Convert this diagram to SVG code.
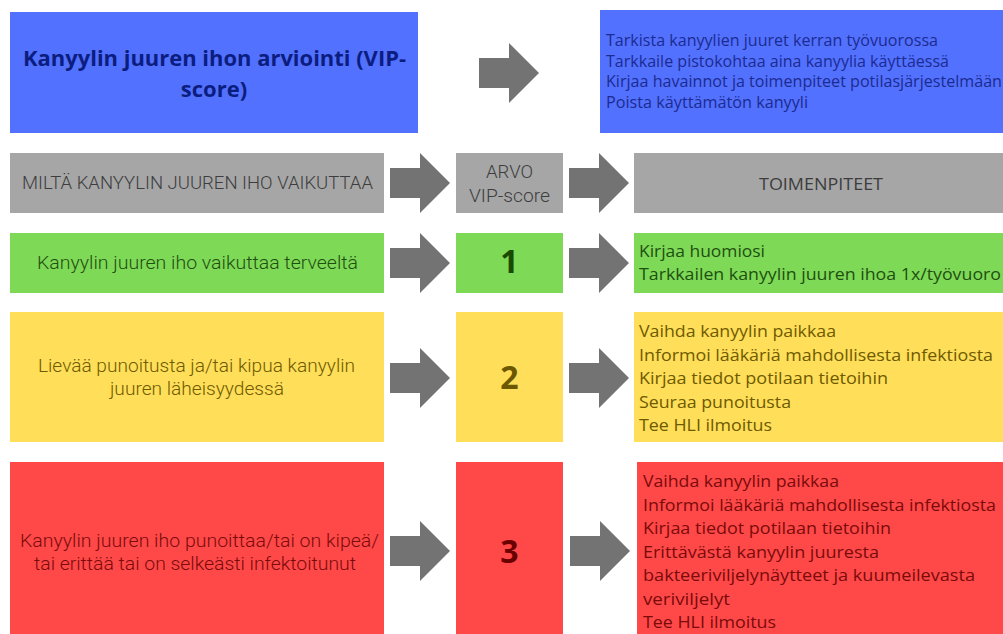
<svg xmlns="http://www.w3.org/2000/svg" xmlns:xlink="http://www.w3.org/1999/xlink" width="1003" height="634" viewBox="0 0 1003 634">
<defs>
<style>
.blue{fill:#5271FF}.gray{fill:#A6A6A6}.green{fill:#7ED957}.yellow{fill:#FFDE59}.red{fill:#FF4848}
.arrow{fill:#737373}
text{font-family:"Open Sans","Liberation Sans",sans-serif}
.l{font-family:Roboto,"Liberation Sans",sans-serif;font-weight:300;font-size:18px;text-anchor:middle}
.r{font-size:16px}
.num{font-family:"Open Sans","Liberation Sans",sans-serif;font-weight:bold;font-size:32px;text-anchor:middle}
.title{font-weight:bold;font-size:22px;fill:#0C1D80;text-anchor:middle}
.tb{fill:#1C2B90;font-size:16px}
.tg{fill:#3D3D3D}.tgr{fill:#1F4F10}.ty{fill:#6E5A00}.tr{fill:#7A0B0B}
</style>
<path id="arr" d="M0,-15 H30 V-30 L60,0 L30,30 V15 H0 Z"/>
</defs>
<g id="connectors" class="arrow">
<use xlink:href="#arr" x="479" y="73"/>
<use xlink:href="#arr" x="390" y="183"/>
<use xlink:href="#arr" x="569" y="183"/>
<use xlink:href="#arr" x="390" y="263"/>
<use xlink:href="#arr" x="569" y="263"/>
<use xlink:href="#arr" x="390" y="378"/>
<use xlink:href="#arr" x="569" y="378"/>
<use xlink:href="#arr" x="390" y="551"/>
<use xlink:href="#arr" x="570" y="551"/>
</g>
<g id="title">
<rect class="blue" x="10" y="12" width="408" height="121"/>
<text class="title" x="214.5" y="66" textLength="383" lengthAdjust="spacingAndGlyphs">Kanyylin juuren ihon arviointi (VIP-</text>
<text class="title" x="214" y="97">score)</text>
</g>
<g id="general">
<rect class="blue" x="600" y="10" width="403" height="123"/>
<text class="tb" x="606" y="46" textLength="332" lengthAdjust="spacingAndGlyphs">Tarkista kanyylien juuret kerran työvuorossa</text>
<text class="tb" x="606" y="66.5" textLength="343" lengthAdjust="spacingAndGlyphs">Tarkkaile pistokohtaa aina kanyylia käyttäessä</text>
<text class="tb" x="606" y="87" textLength="396" lengthAdjust="spacingAndGlyphs">Kirjaa havainnot ja toimenpiteet potilasjärjestelmään</text>
<text class="tb" x="606" y="107.5" textLength="202" lengthAdjust="spacingAndGlyphs">Poista käyttämätön kanyyli</text>
</g>
<g id="header-look">
<rect class="gray" x="10" y="153" width="374" height="60"/>
<text class="l tg" x="197.5" y="189" textLength="351" lengthAdjust="spacingAndGlyphs">MILTÄ KANYYLIN JUUREN IHO VAIKUTTAA</text>
</g>
<g id="header-value">
<rect class="gray" x="456" y="153" width="107" height="60"/>
<text class="l tg" x="509.5" y="178" textLength="47" lengthAdjust="spacingAndGlyphs">ARVO</text>
<text class="l tg" x="509.5" y="202" textLength="81" lengthAdjust="spacingAndGlyphs">VIP-score</text>
</g>
<g id="header-actions">
<rect class="gray" x="634" y="153" width="369" height="60"/>
<text class="tg" x="821" y="190" text-anchor="middle" font-size="16" textLength="124" lengthAdjust="spacingAndGlyphs">TOIMENPITEET</text>
</g>
<g id="look-1">
<rect class="green" x="10" y="233" width="374" height="60"/>
<text class="l tgr" x="197.5" y="269" textLength="321" lengthAdjust="spacingAndGlyphs">Kanyylin juuren iho vaikuttaa terveeltä</text>
</g>
<g id="value-1">
<rect class="green" x="456" y="233" width="107" height="60"/>
<text class="num" x="509.5" y="273" fill="#1A4A00">1</text>
</g>
<g id="actions-1">
<rect class="green" x="634" y="233" width="369" height="60"/>
<text class="r tgr" x="639" y="257" textLength="126" lengthAdjust="spacingAndGlyphs">Kirjaa huomiosi</text>
<text class="r tgr" x="639" y="280" textLength="362" lengthAdjust="spacingAndGlyphs">Tarkkailen kanyylin juuren ihoa 1x/työvuoro</text>
</g>
<g id="look-2">
<rect class="yellow" x="10" y="312" width="374" height="130"/>
<text class="l ty" x="196.5" y="372" textLength="317" lengthAdjust="spacingAndGlyphs">Lievää punoitusta ja/tai kipua kanyylin</text>
<text class="l ty" x="197" y="395" textLength="174" lengthAdjust="spacingAndGlyphs">juuren läheisyydessä</text>
</g>
<g id="value-2">
<rect class="yellow" x="456" y="312" width="107" height="130"/>
<text class="num" x="509.5" y="389" fill="#6B5800">2</text>
</g>
<g id="actions-2">
<rect class="yellow" x="634" y="312" width="369" height="130"/>
<text class="r ty" x="639" y="337" textLength="197" lengthAdjust="spacingAndGlyphs">Vaihda kanyylin paikkaa</text>
<text class="r ty" x="639" y="360.5" textLength="354" lengthAdjust="spacingAndGlyphs">Informoi lääkäriä mahdollisesta infektiosta</text>
<text class="r ty" x="639" y="384" textLength="249" lengthAdjust="spacingAndGlyphs">Kirjaa tiedot potilaan tietoihin</text>
<text class="r ty" x="639" y="407.5" textLength="152" lengthAdjust="spacingAndGlyphs">Seuraa punoitusta</text>
<text class="r ty" x="639" y="431" textLength="133" lengthAdjust="spacingAndGlyphs">Tee HLI ilmoitus</text>
</g>
<g id="look-3">
<rect class="red" x="10" y="462" width="374" height="172"/>
<text class="l tr" x="199.5" y="547" textLength="359" lengthAdjust="spacingAndGlyphs">Kanyylin juuren iho punoittaa/tai on kipeä/</text>
<text class="l tr" x="195" y="570" textLength="322" lengthAdjust="spacingAndGlyphs">tai erittää tai on selkeästi infektoitunut</text>
</g>
<g id="value-3">
<rect class="red" x="456" y="462" width="107" height="172"/>
<text class="num" x="509.5" y="563" fill="#6B0000">3</text>
</g>
<g id="actions-3">
<rect class="red" x="637" y="462" width="366" height="172"/>
<text class="r tr" x="643" y="487" textLength="196" lengthAdjust="spacingAndGlyphs">Vaihda kanyylin paikkaa</text>
<text class="r tr" x="643" y="510.5" textLength="353" lengthAdjust="spacingAndGlyphs">Informoi lääkäriä mahdollisesta infektiosta</text>
<text class="r tr" x="643" y="534" textLength="248" lengthAdjust="spacingAndGlyphs">Kirjaa tiedot potilaan tietoihin</text>
<text class="r tr" x="643" y="557.5" textLength="236" lengthAdjust="spacingAndGlyphs">Erittävästä kanyylin juuresta</text>
<text class="r tr" x="643" y="581" textLength="332" lengthAdjust="spacingAndGlyphs">bakteeriviljelynäytteet ja kuumeilevasta</text>
<text class="r tr" x="643" y="604.5" textLength="87" lengthAdjust="spacingAndGlyphs">veriviljelyt</text>
<text class="r tr" x="643" y="628" textLength="133" lengthAdjust="spacingAndGlyphs">Tee HLI ilmoitus</text>
</g>
</svg>
